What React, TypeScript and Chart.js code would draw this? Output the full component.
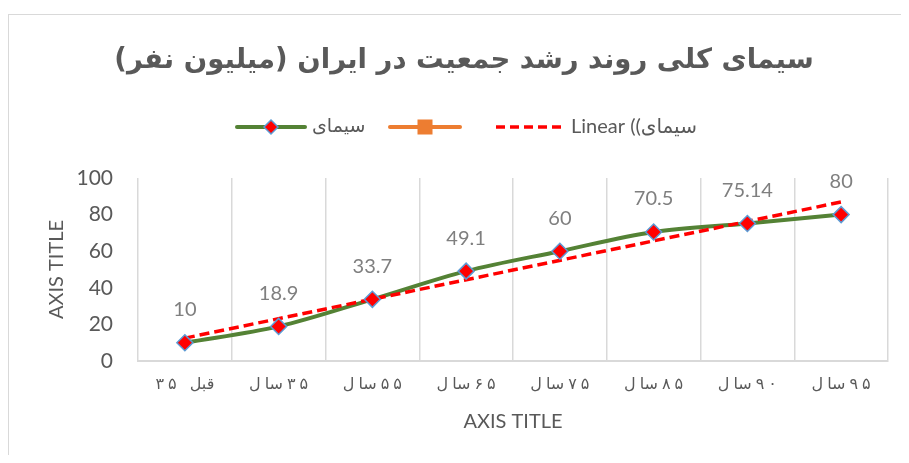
import React, { useEffect, useRef } from 'react';
import { Chart, registerables } from 'chart.js';

Chart.register(...registerables);

// ---- data ----
const titleText = 'سیمای کلی روند رشد جمعیت در ایران (میلیون نفر)';
const categories = ['قبل ۳۵', '۳۵سال', '۵۵سال', '۶۵سال', '۷۵سال', '۸۵سال', '۹۰سال', '۹۵سال'];
const populationValues = [10, 18.9, 33.7, 49.1, 60, 70.5, 75.14, 80];
const emptySeriesValues: (number | null)[] = [null, null, null, null, null, null, null, null];
const trendValues: (number | null)[] = [12.5, null, null, null, null, null, null, 86.9];
const seriesName = 'سیمای';
const emptySeriesName = '';
const trendName = 'Linear ((سیمای';
const axisTitleY = 'AXIS TITLE';
const axisTitleX = 'AXIS TITLE';
const yMin = 0;
const yMax = 100;
const yStep = 20;

// ---- styles ----
const GREEN = '#548235';
const ORANGE = '#ED7D31';
const RED = '#FF0000';
const BLUE = '#5B9BD5';
const GRID = '#D9D9D9';
const TEXT = '#595959';
const LABEL = '#7F7F7F';
const LATIN = 'Lato, "DejaVu Sans", sans-serif';
const ARABIC = '"DejaVu Sans", sans-serif';

const NON_JOINING_LEFT = 'اآأإدذرزژو';
const isDigit = (ch: string) => /[\u06F0-\u06F9\u0660-\u06690-9]/.test(ch);

// Lays out an RTL label piece by piece (emulates letter spacing).
function drawSpacedRtl(ctx: CanvasRenderingContext2D, text: string, cx: number, cy: number, spacing: number) {
  type Run = { kind: 'd' | 'w' | 's'; t: string };
  const runs: Run[] = [];
  for (const ch of Array.from(text)) {
    const kind = ch === ' ' ? 's' : isDigit(ch) ? 'd' : 'w';
    const last = runs[runs.length - 1];
    if (last && last.kind === kind) last.t += ch;
    else runs.push({ kind, t: ch });
  }
  const pieces: string[] = [];
  runs.reverse().forEach((r) => {
    if (r.kind === 'd') {
      Array.from(r.t).forEach((c) => pieces.push(c));
    } else if (r.kind === 's') {
      pieces.push(' ');
    } else {
      const groups: string[] = [];
      let cur = '';
      for (const ch of Array.from(r.t)) {
        cur += ch;
        if (NON_JOINING_LEFT.includes(ch)) {
          groups.push(cur);
          cur = '';
        }
      }
      if (cur) groups.push(cur);
      groups.reverse().forEach((g) => pieces.push(g));
    }
  });
  const widths = pieces.map((p) => ctx.measureText(p).width);
  const total = widths.reduce((a, b) => a + b, 0) + spacing * (pieces.length - 1);
  let x = cx - total / 2;
  ctx.textAlign = 'left';
  pieces.forEach((p, i) => {
    if (p !== ' ') ctx.fillText(p, x, cy);
    x += widths[i] + spacing;
  });
}

const overlayPlugin = {
  id: 'overlay',
  afterDatasetsDraw(chart: any) {
    const ctx = chart.ctx;
    const meta = chart.getDatasetMeta(3);
    ctx.save();
    ctx.font = `20px ${LATIN}`;
    ctx.fillStyle = LABEL;
    ctx.textAlign = 'center';
    ctx.textBaseline = 'middle';
    meta.data.forEach((pt: any, i: number) => {
      ctx.fillText(String(populationValues[i]), pt.x, pt.y - 33);
    });
    ctx.restore();
  },
  afterDraw(chart: any) {
    const ctx = chart.ctx;
    const area = chart.chartArea;
    ctx.save();
    // title
    ctx.font = `bold 27.5px ${ARABIC}`;
    ctx.fillStyle = TEXT;
    ctx.textAlign = 'center';
    ctx.textBaseline = 'middle';
    ctx.fillText(titleText, 456, 53);

    // x tick labels
    const xs = chart.scales.x;
    ctx.font = `16px ${ARABIC}`;
    ctx.fillStyle = TEXT;
    categories.forEach((c, i) => {
      drawSpacedRtl(ctx, c, xs.getPixelForValue(i), area.bottom + 24, 4);
    });

    // legend
    const ly = 119;
    ctx.lineCap = 'round';
    ctx.strokeStyle = GREEN;
    ctx.lineWidth = 4;
    ctx.beginPath();
    ctx.moveTo(229, ly);
    ctx.lineTo(297, ly);
    ctx.stroke();
    ctx.beginPath();
    ctx.moveTo(263, ly - 7);
    ctx.lineTo(270, ly);
    ctx.lineTo(263, ly + 7);
    ctx.lineTo(256, ly);
    ctx.closePath();
    ctx.fillStyle = RED;
    ctx.fill();
    ctx.strokeStyle = BLUE;
    ctx.lineWidth = 1.5;
    ctx.stroke();
    ctx.fillStyle = TEXT;
    ctx.font = `19px ${ARABIC}`;
    ctx.textAlign = 'left';
    ctx.fillText(seriesName, 304, ly);

    ctx.strokeStyle = ORANGE;
    ctx.lineWidth = 4;
    ctx.beginPath();
    ctx.moveTo(382, ly);
    ctx.lineTo(452, ly);
    ctx.stroke();
    ctx.fillStyle = ORANGE;
    ctx.fillRect(417 - 7.5, ly - 7.5, 15, 15);
    ctx.fillStyle = TEXT;
    ctx.fillText(emptySeriesName, 458, ly);

    ctx.lineCap = 'butt';
    ctx.strokeStyle = RED;
    ctx.lineWidth = 3.5;
    ctx.setLineDash([9, 5]);
    ctx.beginPath();
    ctx.moveTo(488, ly);
    ctx.lineTo(558, ly);
    ctx.stroke();
    ctx.setLineDash([]);
    ctx.fillStyle = TEXT;
    ctx.font = `20px ${LATIN}`;
    ctx.fillText(trendName, 563, ly);
    ctx.restore();
  },
};

export default function App() {
  const ref = useRef<HTMLCanvasElement | null>(null);

  useEffect(() => {
    if (!ref.current) return;
    const chart = new Chart(ref.current, {
      type: 'line',
      data: {
        labels: categories,
        datasets: [
          {
            label: seriesName,
            data: populationValues,
            borderColor: GREEN,
            borderWidth: 4,
            tension: 0.33,
            pointRadius: 0,
            fill: false,
            order: 3,
          },
          {
            label: emptySeriesName,
            data: emptySeriesValues,
            borderColor: ORANGE,
            backgroundColor: ORANGE,
            pointStyle: 'rect',
            pointRadius: 0,
            order: 2,
          },
          {
            label: trendName,
            data: trendValues,
            borderColor: RED,
            borderWidth: 3.5,
            borderDash: [10, 5],
            spanGaps: true,
            pointRadius: 0,
            tension: 0,
            fill: false,
            order: 1,
          },
          {
            label: seriesName + ' markers',
            data: populationValues,
            showLine: false,
            pointStyle: 'rectRot',
            pointRadius: 8,
            pointBackgroundColor: RED,
            pointBorderColor: BLUE,
            pointBorderWidth: 1.5,
            order: 0,
          },
        ],
      },
      options: {
        animation: false,
        responsive: true,
        maintainAspectRatio: false,
        layout: { padding: { top: 170, right: 13, left: 0, bottom: 0 } },
        plugins: {
          legend: { display: false },
          title: { display: false },
          tooltip: { enabled: false },
        },
        scales: {
          x: {
            type: 'category',
            offset: true,
            grid: { display: true, offset: true, color: GRID, lineWidth: 1.5, drawTicks: false },
            border: { display: true, color: GRID, width: 2 },
            ticks: { display: false },
            title: {
              display: true,
              text: axisTitleX,
              color: TEXT,
              font: { family: LATIN, size: 20 },
              padding: { top: 0, bottom: 21 },
            },
            afterFit: (s: any) => {
              s.height = 94;
            },
          },
          y: {
            min: yMin,
            max: yMax,
            grid: { display: false, drawTicks: false },
            border: { display: false },
            ticks: {
              stepSize: yStep,
              color: TEXT,
              padding: 25,
              font: { family: LATIN, size: 21 },
            },
            title: {
              display: true,
              text: axisTitleY,
              color: TEXT,
              font: { family: LATIN, size: 20 },
              padding: { top: 37, bottom: 0 },
            },
            afterFit: (s: any) => {
              s.width = 130;
            },
          },
        },
      },
      plugins: [overlayPlugin],
    });
    return () => chart.destroy();
  }, []);

  return (
    <div style={{ position: 'relative', width: 893, height: 447 }}>
      <div
        style={{
          position: 'absolute',
          left: 0,
          top: 6,
          right: 0,
          bottom: 0,
          borderLeft: `1px solid ${GRID}`,
          borderTop: `1px solid ${GRID}`,
        }}
      />
      <canvas ref={ref} />
    </div>
  );
}
